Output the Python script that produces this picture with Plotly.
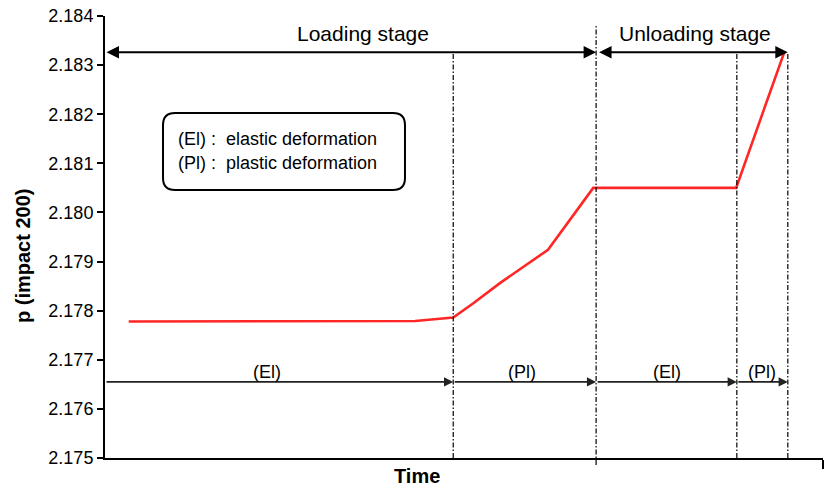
import plotly.graph_objects as go

# ---- data (time in arbitrary units, p values) ----
time = [3.3, 20.0, 43.2, 48.5, 51.3, 55.0, 61.7, 68.0, 87.9, 94.6]
p_val = [2.17778, 2.17778, 2.17779, 2.17786, 2.17815, 2.17856, 2.17924, 2.18050, 2.18050, 2.18326]

stage_bounds = [0.0, 48.5, 68.4, 88.0, 95.1]      # boundaries of El / Pl phases
phase_labels = ["(El)", "(Pl)", "(El)", "(Pl)"]
phase_label_x = [22.6, 58.1, 78.3, 91.5]
stage_names = ["Loading stage", "Unloading stage"]
stage_name_x = [35.9, 82.2]
y_ticks = [2.175, 2.176, 2.177, 2.178, 2.179, 2.180, 2.181, 2.182, 2.183, 2.184]

FONT = "Liberation Sans, Arial, sans-serif"

fig = go.Figure()
fig.add_trace(go.Scatter(x=time, y=p_val, mode="lines",
                         line=dict(color="#ff2626", width=2.6),
                         showlegend=False, hoverinfo="skip"))

annotations = []
shapes = []

# stage arrows (double-headed)
stage_y = 2.18326
annotations.append(dict(x=stage_bounds[2], y=stage_y, ax=stage_bounds[0], ay=stage_y,
                        xref="x", yref="y", axref="x", ayref="y", text="",
                        showarrow=True, arrowhead=2, startarrowhead=2, arrowside="end+start",
                        arrowsize=1.25, startarrowsize=1.25, arrowwidth=2, arrowcolor="black"))
annotations.append(dict(x=stage_bounds[4], y=stage_y, ax=stage_bounds[2] + 0.2, ay=stage_y,
                        xref="x", yref="y", axref="x", ayref="y", text="",
                        showarrow=True, arrowhead=2, startarrowhead=2, arrowside="end+start",
                        arrowsize=1.25, startarrowsize=1.25, arrowwidth=2, arrowcolor="black"))
for name, xn in zip(stage_names, stage_name_x):
    annotations.append(dict(x=xn, y=2.18365, xref="x", yref="y", text=name, showarrow=False,
                            font=dict(family=FONT, size=21, color="black"),
                            xanchor="center", yanchor="middle"))

# phase arrows at bottom
phase_y = 2.17655
for i in range(4):
    annotations.append(dict(x=stage_bounds[i + 1], y=phase_y, ax=stage_bounds[i], ay=phase_y,
                            xref="x", yref="y", axref="x", ayref="y", text="",
                            showarrow=True, arrowhead=2, arrowsize=1.15, arrowwidth=1.6,
                            arrowcolor="#222222"))
    annotations.append(dict(x=phase_label_x[i], y=2.17676, xref="x", yref="y",
                            text=phase_labels[i], showarrow=False,
                            font=dict(family=FONT, size=18, color="black"),
                            xanchor="center", yanchor="middle"))

# vertical dash-dot boundary lines
for i, xb in enumerate(stage_bounds[1:]):
    top = 0.9796 if i == 1 else 0.9186
    bot = -0.016 if i == 1 else 0.0
    shapes.append(dict(type="line", xref="x", yref="paper", x0=xb, x1=xb, y0=bot, y1=top,
                       line=dict(color="black", width=1.2, dash="5px,2px,1.5px,2px")))

# rounded legend box (paper coords)
x0, x1, y0, y1 = 0.0808, 0.4178, 0.6063, 0.7805
rx, ry = 12 / 718, 12 / 442
path = (f"M{x0+rx},{y1} L{x1-rx},{y1} Q{x1},{y1} {x1},{y1-ry} "
        f"L{x1},{y0+ry} Q{x1},{y0} {x1-rx},{y0} L{x0+rx},{y0} "
        f"Q{x0},{y0} {x0},{y0+ry} L{x0},{y1-ry} Q{x0},{y1} {x0+rx},{y1} Z")
shapes.append(dict(type="path", xref="paper", yref="paper", path=path,
                   line=dict(color="black", width=2), fillcolor="white", layer="below"))
legend_lines = ["(El) :  elastic deformation", "(Pl) :  plastic deformation"]
legend_y = [(458 - 139) / 442, (458 - 163) / 442]
for txt, ly in zip(legend_lines, legend_y):
    annotations.append(dict(x=(176 - 105) / 718, y=ly, xref="paper", yref="paper", text=txt,
                            showarrow=False, xanchor="left", yanchor="middle",
                            font=dict(family=FONT, size=18, color="black")))

# axis titles
annotations.append(dict(x=(23 - 105) / 718, y=(458 - 256) / 442, xref="paper", yref="paper",
                        text="<b>p (impact 200)</b>", textangle=-90, showarrow=False,
                        xanchor="center", yanchor="middle",
                        font=dict(family=FONT, size=20, color="black")))
annotations.append(dict(x=43.45, y=(458 - 476) / 442, xref="x", yref="paper",
                        text="<b>Time</b>", showarrow=False, xanchor="center", yanchor="middle",
                        font=dict(family=FONT, size=20, color="black")))

fig.update_layout(
    width=825, height=489,
    margin=dict(l=105, r=2, t=16, b=31),
    paper_bgcolor="white", plot_bgcolor="white",
    font=dict(family=FONT, size=18, color="black"),
    xaxis=dict(range=[0, 100], showgrid=False, zeroline=False, showline=True,
               linecolor="black", linewidth=2, ticks="outside", tickvals=[100],
               ticktext=[""], ticklen=9, tickwidth=1.5, tickcolor="black"),
    yaxis=dict(range=[2.175, 2.184], showgrid=False, zeroline=False, showline=True,
               linecolor="black", linewidth=2, ticks="outside", tickvals=y_ticks,
               tickformat=".3f", ticklen=6, tickwidth=1.5, tickcolor="black",
               tickfont=dict(family=FONT, size=18, color="black")),
    annotations=annotations, shapes=shapes,
)

fig.write_html("out.html")
